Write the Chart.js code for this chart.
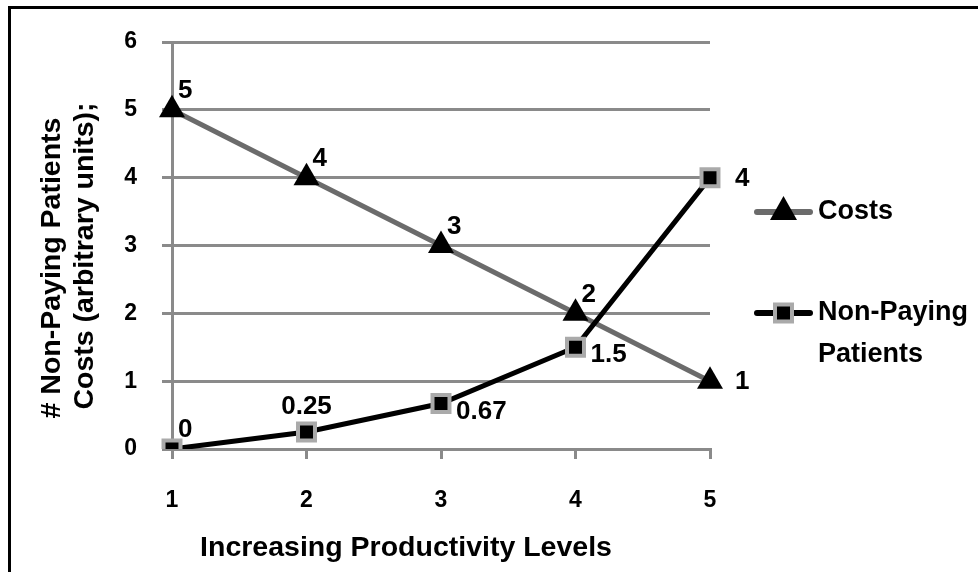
<!DOCTYPE html>
<html>
<head>
<meta charset="utf-8">
<script src="https://cdn.jsdelivr.net/npm/chart.js@4/dist/chart.umd.min.js"></script>
<style>
  html, body { margin: 0; padding: 0; background: #fff; }
  #wrap { position: relative; width: 978px; height: 572px; overflow: hidden; }
  #frame { position: absolute; left: 8px; top: 6px; width: 2000px; height: 2000px;
           border-left: 3px solid #000; border-top: 3px solid #000; box-sizing: border-box; }
  canvas { position: absolute; left: 0; top: 0; }
</style>
</head>
<body>
<div id="wrap">
  <div id="frame"></div>
  <canvas id="c" width="978" height="572"></canvas>
</div>
<script>
const categories = ['1', '2', '3', '4', '5'];
const costs = [5, 4, 3, 2, 1];
const nonPaying = [0, 0.25, 0.67, 1.5, 4];
const costLabels = ['5', '4', '3', '2', '1'];
const nonPayingLabels = ['0', '0.25', '0.67', '1.5', '4'];
const costLabelPos = ['ar', 'ar', 'ar', 'ar', 'r'];
const nonPayingLabelPos = ['ar', 'a', 'rb', 'rb', 'r'];
const yTicks = [0, 1, 2, 3, 4, 5, 6];
const xTitle = 'Increasing Productivity Levels';
const yTitle = ['# Non-Paying Patients', 'Costs (arbitrary units);'];

const FONT = '"Liberation Sans", Arial, sans-serif';
const GRID = '#8a8a8a';
const COST_LINE = '#6b6b6b';

const labelPlugin = {
  id: 'pointLabels',
  afterDatasetsDraw(chart) {
    const ctx = chart.ctx;
    ctx.save();
    ctx.font = 'bold 26px ' + FONT;
    ctx.fillStyle = '#000';
    ctx.textBaseline = 'middle';
    chart.data.datasets.forEach((ds, di) => {
      const meta = chart.getDatasetMeta(di);
      meta.data.forEach((pt, i) => {
        const txt = ds.pointLabelText[i];
        const pos = ds.pointLabelPos[i];
        let x = pt.x, y = pt.y;
        if (pos === 'ar') { ctx.textAlign = 'left'; x += 6; y -= 19; }
        else if (pos === 'a') { ctx.textAlign = 'center'; y -= 25; }
        else if (pos === 'r') { ctx.textAlign = 'left'; x += 25; y += 1; }
        else if (pos === 'rb') { ctx.textAlign = 'left'; x += 15; y += 8; }
        ctx.fillText(txt, x, y);
      });
    });
    ctx.restore();
  }
};

const titlesPlugin = {
  id: 'axisTitles',
  afterDraw(chart) {
    const ctx = chart.ctx;
    const ca = chart.chartArea;
    ctx.save();
    ctx.fillStyle = '#000';
    ctx.font = 'bold 28.5px ' + FONT;
    ctx.textAlign = 'center';
    ctx.textBaseline = 'middle';
    ctx.fillText(xTitle, ca.left + 234, ca.bottom + 99);
    const centers = [[ca.left - 120, ca.top + 226], [ca.left - 87, ca.top + 214]];
    yTitle.forEach((t, i) => {
      ctx.save();
      ctx.translate(centers[i][0], centers[i][1]);
      ctx.rotate(-Math.PI / 2);
      ctx.fillText(t, 0, 0);
      ctx.restore();
    });
    ctx.restore();
  }
};

const legendPlugin = {
  id: 'customLegend',
  afterDraw(chart) {
    const ctx = chart.ctx;
    const ca = chart.chartArea;
    const x0 = ca.right + 47, x1 = x0 + 53, xm = (x0 + x1) / 2;
    const ys = [212, 313];
    ctx.save();
    ctx.lineCap = 'round';
    ctx.strokeStyle = COST_LINE; ctx.lineWidth = 6;
    ctx.beginPath(); ctx.moveTo(x0, ys[0]); ctx.lineTo(x1, ys[0]); ctx.stroke();
    ctx.fillStyle = '#000';
    ctx.beginPath();
    ctx.moveTo(xm, ys[0] - 16); ctx.lineTo(xm + 13.5, ys[0] + 8); ctx.lineTo(xm - 13.5, ys[0] + 8);
    ctx.closePath(); ctx.fill();
    ctx.strokeStyle = '#000'; ctx.lineWidth = 6;
    ctx.beginPath(); ctx.moveTo(x0, ys[1]); ctx.lineTo(x1, ys[1]); ctx.stroke();
    ctx.fillStyle = '#aaa'; ctx.fillRect(xm - 10.5, ys[1] - 10.5, 21, 21);
    ctx.fillStyle = '#000'; ctx.fillRect(xm - 6.5, ys[1] - 6.5, 13, 13);
    ctx.font = 'bold 27px ' + FONT;
    ctx.textAlign = 'left'; ctx.textBaseline = 'middle';
    ctx.fillText(chart.data.datasets[0].label, x1 + 8, ys[0]);
    const l2 = chart.data.datasets[1].legendLines;
    ctx.fillText(l2[0], x1 + 8, ys[1]);
    ctx.fillText(l2[1], x1 + 8, ys[1] + 42);
    ctx.restore();
  }
};

new Chart(document.getElementById('c'), {
  type: 'line',
  data: {
    labels: categories,
    datasets: [
      {
        label: 'Costs',
        data: costs,
        order: 1,
        borderColor: COST_LINE,
        borderWidth: 5,
        pointStyle: 'triangle',
        pointRadius: 15,
        pointBackgroundColor: '#000',
        pointBorderColor: '#000',
        pointBorderWidth: 0,
        tension: 0,
        pointLabelText: costLabels,
        pointLabelPos: costLabelPos
      },
      {
        label: 'Non-Paying Patients',
        legendLines: ['Non-Paying', 'Patients'],
        data: nonPaying,
        order: 0,
        borderColor: '#000',
        borderWidth: 5,
        pointStyle: 'rect',
        pointRadius: 12,
        pointBackgroundColor: '#000',
        pointBorderColor: '#aaa',
        pointBorderWidth: 4,
        tension: 0,
        pointLabelText: nonPayingLabels,
        pointLabelPos: nonPayingLabelPos
      }
    ]
  },
  options: {
    responsive: false,
    animation: false,
    layout: { padding: { left: 0, right: 268, top: 42, bottom: 0 } },
    plugins: { legend: { display: false }, tooltip: { enabled: false } },
    scales: {
      x: {
        offset: false,
        afterFit(s) { s.height = 123; },
        grid: { display: true, drawOnChartArea: false, drawTicks: true, tickLength: 10, color: GRID, lineWidth: 3 },
        border: { display: true, color: GRID, width: 3 },
        ticks: { color: '#000', font: { family: FONT, size: 23, weight: 'bold' }, padding: 28 },
        title: { display: false }
      },
      y: {
        min: 0, max: 6,
        afterFit(s) { s.width = 172; },
        afterBuildTicks(s) { s.ticks = yTicks.map(v => ({ value: v })); },
        grid: { color: GRID, lineWidth: 3, tickLength: 10 },
        border: { display: true, color: GRID, width: 3 },
        ticks: { color: '#000', font: { family: FONT, size: 23, weight: 'bold' }, padding: 25 },
        title: { display: false }
      }
    }
  },
  plugins: [labelPlugin, titlesPlugin, legendPlugin]
});
</script>
</body>
</html>
